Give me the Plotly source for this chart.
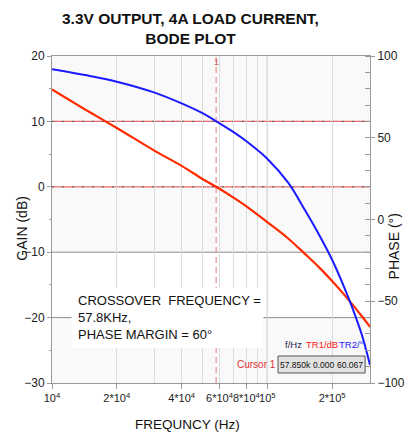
import plotly.graph_objects as go
import math

# ---- data ----
freq_hz = [1e4, 1.5e4, 2e4, 3e4, 4e4, 5e4, 5.785e4, 7e4, 8e4, 1e5, 1.25e5, 1.5e5,
           1.75e5, 2e5, 2.25e5, 2.5e5, 2.75e5, 3e5]
gain_db = [14.9, 11.4, 9.0, 5.5, 3.2, 1.2, 0.0, -1.7, -3.0, -5.4, -7.9, -10.3,
           -12.4, -14.4, -16.3, -18.1, -19.8, -21.4]
phase_deg = [91.9, 87.8, 84.3, 77.6, 71.0, 65.0, 60.1, 53.3, 47.9, 37.2, 22.5, 5.5,
             -9.9, -24.6, -39.8, -55.0, -70.5, -89.0]

gain_ticks = [20, 10, 0, -10, -20, -30]
phase_ticks = [100, 50, 0, -50, -100]
x_tickvals = [1e4, 2e4, 4e4, 6e4, 8e4, 1e5, 2e5]
x_ticktext = ["10<sup>4</sup>", "2*10<sup>4</sup>", "4*10<sup>4</sup>", "6*10<sup>4</sup>",
              "8*10<sup>4</sup>", "10<sup>5</sup>", "2*10<sup>5</sup>"]
x_minor = [3e4, 5e4, 7e4, 9e4]
cursor_f = 5.785e4
cursor_vals = ["57.850k", "0.000", "60.067"]

FONT = "Liberation Sans, Arial, sans-serif"
AX = "#9a9a9a"

fig = go.Figure()
fig.add_trace(go.Scatter(x=freq_hz, y=gain_db, mode="lines", line=dict(color="#ff2a00", width=2.2, shape="spline"),
                         yaxis="y", showlegend=False))
fig.add_trace(go.Scatter(x=freq_hz, y=phase_deg, mode="lines", line=dict(color="#1a1aff", width=2, shape="spline"),
                         yaxis="y2", showlegend=False))

xr = [4, math.log10(3e5)]
shapes = []
# alternating background bands
for y0, y1 in [(10, 20), (-10, 0), (-30, -20)]:
    shapes.append(dict(type="rect", xref="paper", yref="y", x0=0, x1=1, y0=y0, y1=y1,
                       fillcolor="#f9f9f9", line=dict(width=0), layer="below"))
# darker grid lines
shapes.append(dict(type="line", xref="x", yref="paper", x0=1e5, x1=1e5, y0=0, y1=1,
                   line=dict(color="#a8a8a8", width=1), layer="below"))
for yv in [-10, -20]:
    shapes.append(dict(type="line", xref="paper", yref="y", x0=0, x1=1, y0=yv, y1=yv,
                       line=dict(color="#8c8c8c", width=1), layer="below"))
# red reference lines with dark dashes
for yv in [10, 0]:
    shapes.append(dict(type="line", xref="paper", yref="y", x0=0, x1=1, y0=yv, y1=yv,
                       line=dict(color="#e86a6a", width=1.2), layer="below"))
    shapes.append(dict(type="line", xref="paper", yref="y", x0=0, x1=1, y0=yv, y1=yv,
                       line=dict(color="#555555", width=1, dash="2px,8px"), layer="below"))
# cursor line
shapes.append(dict(type="line", xref="x", yref="paper", x0=cursor_f, x1=cursor_f, y0=0, y1=1,
                   line=dict(color="#e07a7a", width=1, dash="6px,4px"), layer="below"))


def px(xp):
    return (xp - 52) / 325


def py(yp):
    return (383 - yp) / 327


# white text box
shapes.append(dict(type="rect", xref="paper", yref="paper",
                   x0=px(72), x1=px(268), y0=py(348), y1=py(288),
                   fillcolor="white", line=dict(width=0), layer="above"))
# cursor value box
shapes.append(dict(type="rect", xref="paper", yref="paper",
                   x0=px(283), x1=px(372), y0=py(373), y1=py(356),
                   fillcolor="#e2e2e2", line=dict(color="#555555", width=1), layer="above"))

ann = []
ann.append(dict(text="<b>3.3V OUTPUT, 4A LOAD CURRENT,<br>BODE PLOT</b>", xref="paper", yref="paper",
                x=px(194), y=py(28.5), showarrow=False, font=dict(family=FONT, size=15.5, color="#111"),
                align="center", xanchor="center", yanchor="middle"))
ann.append(dict(text="GAIN (dB)", xref="paper", yref="paper", x=px(21), y=py(228), textangle=-90,
                showarrow=False, font=dict(family=FONT, size=14, color="#111"), xanchor="center", yanchor="middle"))
ann.append(dict(text="PHASE (°)", xref="paper", yref="paper", x=px(402), y=py(246), textangle=-90,
                showarrow=False, font=dict(family=FONT, size=14, color="#111"), xanchor="center", yanchor="middle"))
ann.append(dict(text="FREQUNCY (Hz)", xref="paper", yref="paper", x=px(190), y=py(424),
                showarrow=False, font=dict(family=FONT, size=13.5, color="#111"), xanchor="center", yanchor="middle"))
ann.append(dict(text="CROSSOVER  FREQUENCY =<br>57.8KHz,<br>PHASE MARGIN = 60°", xref="paper", yref="paper",
                x=px(77), y=py(317), showarrow=False, align="left",
                font=dict(family=FONT, size=13, color="#111"),
                xanchor="left", yanchor="middle"))
ann.append(dict(text="1", xref="x", yref="paper", x=math.log10(cursor_f), y=py(62), showarrow=False,
                font=dict(family=FONT, size=9, color="#d06060"), xanchor="center", yanchor="middle"))
ann.append(dict(text="f/Hz", xref="paper", yref="paper", x=px(299), y=py(344), showarrow=False,
                font=dict(family=FONT, size=9.5, color="#1a1a50"), xanchor="center", yanchor="middle"))
ann.append(dict(text="TR1/dB", xref="paper", yref="paper", x=px(328), y=py(344), showarrow=False,
                font=dict(family=FONT, size=9.5, color="#ff2020"), xanchor="center", yanchor="middle"))
ann.append(dict(text="TR2/°", xref="paper", yref="paper", x=px(358), y=py(344), showarrow=False,
                font=dict(family=FONT, size=9.5, color="#2020ff"), xanchor="center", yanchor="middle"))
ann.append(dict(text="Cursor 1", xref="paper", yref="paper", x=px(283), y=py(364), showarrow=False,
                font=dict(family=FONT, size=10, color="#e03030"), xanchor="right", yanchor="middle"))
for xp, anc, t in zip([283, 330, 372], ["left", "center", "right"], cursor_vals):
    ann.append(dict(text=t, xref="paper", yref="paper", x=px(xp), y=py(364.5), showarrow=False,
                    font=dict(family=FONT, size=8.5, color="#111"), xanchor=anc, yanchor="middle"))

# page body has an 8px margin: shrink the figure so the plot area lands where the reference has it
fig.update_layout(
    width=409, height=431,
    margin=dict(l=44, r=40, t=48, b=56),
    paper_bgcolor="white", plot_bgcolor="white",
    font=dict(family=FONT, size=12, color="#222"),
    shapes=shapes, annotations=ann,
    xaxis=dict(type="log", range=xr, tickvals=x_tickvals, ticktext=x_ticktext, tickangle=0,
               showgrid=True, gridcolor="#dcdcdc", gridwidth=1,
               ticks="outside", ticklen=5, tickcolor=AX,
               showline=True, linecolor=AX, mirror=True, zeroline=False,
               tickfont=dict(family=FONT, size=11, color="#222"),
               minor=dict(tickvals=x_minor, showgrid=True, gridcolor="#dcdcdc", ticks="")),
    yaxis=dict(range=[-30, 20], tickvals=gain_ticks, showgrid=False, zeroline=False,
               ticks="outside", ticklen=4, tickcolor=AX, showline=True, linecolor=AX,
               tickfont=dict(family=FONT, size=12, color="#222"),
               minor=dict(dtick=5, ticks="outside", ticklen=2, tickcolor=AX)),
    yaxis2=dict(range=[-100, 100], tickvals=phase_ticks, overlaying="y", side="right",
                showgrid=False, zeroline=False, ticks="outside", ticklen=4, tickcolor=AX,
                showline=True, linecolor=AX,
                tickfont=dict(family=FONT, size=12, color="#222"),
                minor=dict(dtick=10, ticks="inside", ticklen=5, tickcolor=AX)),
)

fig.write_html("out.html")
